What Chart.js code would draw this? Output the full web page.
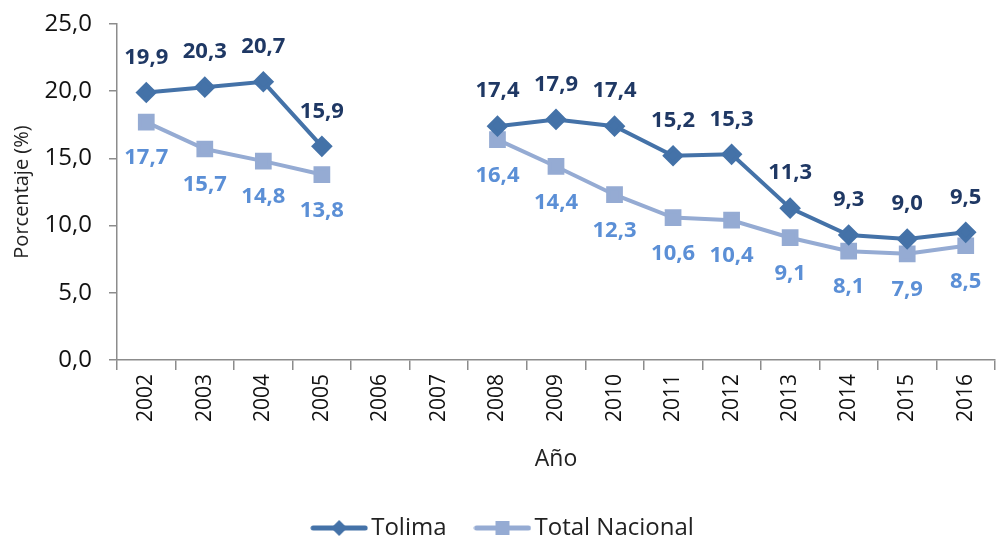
<!DOCTYPE html>
<html>
<head>
<meta charset="utf-8">
<script src="https://cdn.jsdelivr.net/npm/chart.js@4.4.0/dist/chart.umd.min.js"></script>
<style>
  html, body { margin: 0; padding: 0; background: #fff; }
  #wrap { width: 1008px; height: 540px; }
</style>
</head>
<body>
<div id="wrap"><canvas id="chart"></canvas></div>
<script>
// chart data
const years = ['2002', '2003', '2004', '2005', '2006', '2007', '2008', '2009', '2010', '2011', '2012', '2013', '2014', '2015', '2016'];
const tolima = [19.9, 20.3, 20.7, 15.9, null, null, 17.4, 17.9, 17.4, 15.2, 15.3, 11.3, 9.3, 9.0, 9.5];
const totalNacional = [17.7, 15.7, 14.8, 13.8, null, null, 16.4, 14.4, 12.3, 10.6, 10.4, 9.1, 8.1, 7.9, 8.5];
const yTicks = [0, 5, 10, 15, 20, 25];

const FONT = "'Open Sans', 'Noto Sans', sans-serif";
const dark = '#4472a8';
const light = '#95abd3';

const fmt = v => v.toFixed(1).replace('.', ',');

// small icon for the legend: line with marker
function legendIcon(color, shape) {
  const c = document.createElement('canvas');
  c.width = 58; c.height = 20;
  const g = c.getContext('2d');
  g.strokeStyle = color; g.lineWidth = 5; g.lineCap = 'round';
  g.beginPath(); g.moveTo(3, 10); g.lineTo(55, 10); g.stroke();
  g.fillStyle = color;
  if (shape === 'diamond') {
    g.beginPath(); g.moveTo(29, 2); g.lineTo(37, 10); g.lineTo(29, 18); g.lineTo(21, 10); g.closePath(); g.fill();
  } else {
    g.fillRect(22, 3, 14, 14);
  }
  return c;
}

// draws the value labels above / below the points
const valueLabels = {
  id: 'valueLabels',
  afterDatasetsDraw(chart) {
    const ctx = chart.ctx;
    ctx.save();
    ctx.font = 'bold 22px ' + FONT;
    ctx.textAlign = 'center';
    ctx.textBaseline = 'middle';
    chart.data.datasets.forEach((ds, i) => {
      const meta = chart.getDatasetMeta(i);
      meta.data.forEach((pt, j) => {
        const v = ds.data[j];
        if (v === null) return;
        ctx.fillStyle = ds.labelColor;
        ctx.fillText(fmt(v), pt.x, pt.y + ds.labelOffset);
      });
    });
    ctx.restore();
  }
};

new Chart(document.getElementById('chart'), {
  type: 'line',
  data: {
    labels: years,
    datasets: [
      {
        label: 'Tolima',
        data: tolima,
        borderColor: dark,
        backgroundColor: dark,
        borderWidth: 4,
        pointStyle: 'rectRot',
        pointRadius: 8,
        pointHoverRadius: 8,
        spanGaps: false,
        labelColor: '#1f3864',
        labelOffset: -35
      },
      {
        label: 'Total Nacional',
        data: totalNacional,
        borderColor: light,
        backgroundColor: light,
        borderWidth: 4,
        pointStyle: 'rect',
        pointRadius: 9,
        pointHoverRadius: 9,
        spanGaps: false,
        labelColor: '#5b8fd6',
        labelOffset: 36
      }
    ]
  },
  options: {
    responsive: true,
    maintainAspectRatio: false,
    animation: false,
    layout: { padding: { top: 24, right: 3, left: 8, bottom: -10 } },
    plugins: {
      tooltip: { enabled: false },
      legend: {
        position: 'bottom',
        labels: {
          usePointStyle: true,
          pointStyleWidth: 40,
          color: '#222',
          font: { family: FONT, size: 24 },
          padding: 36,
          generateLabels(chart) {
            return chart.data.datasets.map((ds, i) => ({
              text: ds.label,
              fontColor: '#222',
              pointStyle: legendIcon(ds.borderColor, i === 0 ? 'diamond' : 'square'),
              lineWidth: 0,
              strokeStyle: 'transparent',
              fillStyle: 'transparent',
              datasetIndex: i
            }));
          }
        }
      }
    },
    scales: {
      x: {
        offset: true,
        afterFit(scale) { scale.height = 120; },
        grid: {
          display: true, drawOnChartArea: false, offset: true,
          tickLength: 10, color: '#8c8c8c', lineWidth: 1.5
        },
        border: { color: '#8c8c8c', width: 1.5 },
        ticks: {
          color: '#111',
          font: { family: FONT, size: 21 },
          minRotation: 90, maxRotation: 90, padding: 4
        },
        title: {
          display: true, text: 'Año', color: '#222',
          font: { family: FONT, size: 23 }, padding: { top: 4, bottom: 7 }
        }
      },
      y: {
        min: 0, max: 25,
        afterBuildTicks(scale) { scale.ticks = yTicks.map(v => ({ value: v })); },
        afterFit(scale) {
          scale.width = 109;
          // the tick padding should not push the plot area down
          scale.paddingTop = 0;
          scale.paddingBottom = 0;
        },
        grid: {
          display: true, drawOnChartArea: false,
          tickLength: 8, color: '#8c8c8c', lineWidth: 1.5
        },
        border: { color: '#8c8c8c', width: 1.5 },
        ticks: {
          color: '#111',
          font: { family: FONT, size: 24 },
          padding: 17,
          callback: v => fmt(v)
        },
        title: {
          display: true, text: 'Porcentaje (%)', color: '#222',
          font: { family: FONT, size: 20 }, padding: 2
        }
      }
    }
  },
  plugins: [valueLabels]
});
</script>
</body>
</html>
